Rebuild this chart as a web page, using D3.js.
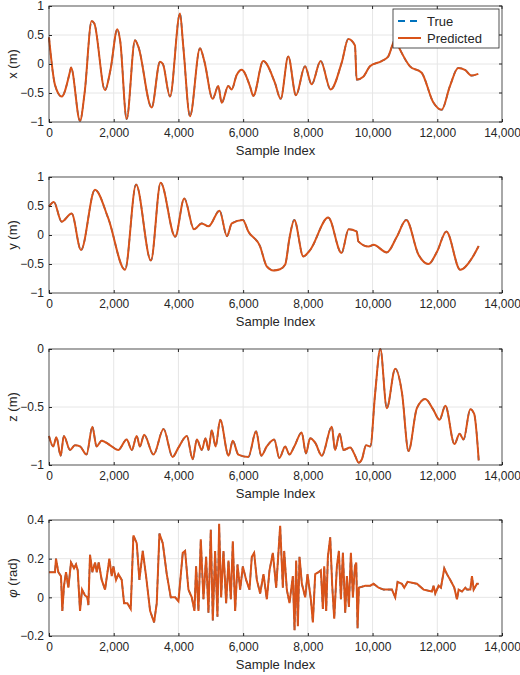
<!DOCTYPE html>
<html>
<head>
<meta charset="utf-8">
<script src="https://cdn.jsdelivr.net/npm/d3@7"></script>
<style>
  body { margin: 0; background: #fff; }
  text { font-family: "Liberation Sans", Arial, sans-serif; fill: #262626; }
</style>
</head>
<body>
<div id="chart"></div>
<script>
// ------------------------------ DATA ------------------------------
var xIndex = [0,185,392,649,680,958,1100,1318,1400,1730,1900,2111,2200,2400,2657,2760,3173,3430,3520,3739,4048,4150,4357,4666,4800,5058,5232,5336,5541,5644,5800,5954,6210,6313,6620,6980,7160,7395,7633,7911,8117,8395,8704,9044,9250,9456,9507,9713,9919,10280,10484,10700,10846,11155,11517,11875,12134,12391,12647,12853,13060,13266];
var xValue = [0.46,-0.36,-0.56,-0.13,-0.06,-0.98,-0.5,0.74,0.7,-0.45,-0.1,0.6,0.4,-0.95,0.41,0.3,-0.75,0.04,0.0,-0.56,0.87,0.3,-0.9,0.27,0.05,-0.6,-0.38,-0.67,-0.38,-0.44,-0.19,-0.1,-0.38,-0.55,0.05,-0.32,-0.6,0.13,-0.54,-0.04,-0.35,0.05,-0.44,0.02,0.43,0.32,-0.27,-0.22,-0.04,0.05,0.13,0.42,0.25,-0.04,-0.15,-0.66,-0.79,-0.38,-0.07,-0.1,-0.2,-0.17];

var yIndex = [0,150,390,700,990,1420,1830,2350,2690,3150,3450,3900,4180,4480,4720,4930,5270,5500,5650,5990,6160,6520,6730,6940,7140,7300,7430,7580,7860,8070,8630,9040,9260,9510,9560,9880,10030,10440,10750,11040,11420,11730,11990,12280,12710,13070,13280];
var yValue = [0.49,0.57,0.23,0.37,-0.26,0.78,0.29,-0.6,0.87,-0.44,0.9,-0.03,0.63,0.1,0.2,0.15,0.42,-0.02,0.2,0.26,0.06,-0.19,-0.54,-0.61,-0.59,-0.51,-0.06,0.26,-0.37,-0.26,0.3,-0.31,0.1,0.06,-0.11,-0.2,-0.17,-0.3,-0.03,0.26,-0.34,-0.5,-0.29,0.06,-0.6,-0.4,-0.19];

var zIndex = [0,130,230,360,460,650,800,960,1160,1340,1470,1630,1890,2140,2400,2560,2710,2810,2940,3230,3540,3820,4000,4260,4440,4570,4720,4840,4930,5030,5150,5290,5550,5680,5850,6160,6400,6560,6730,6960,7120,7300,7430,7580,7810,7940,8070,8230,8430,8740,8840,8980,9100,9310,9460,9570,9670,9800,9930,10080,10240,10440,10700,10910,11110,11370,11630,11870,12070,12250,12530,12690,12810,13020,13140,13280];
var zValue = [-0.75,-0.84,-0.76,-0.92,-0.75,-0.87,-0.83,-0.84,-0.91,-0.67,-0.84,-0.79,-0.83,-0.87,-0.78,-0.87,-0.75,-0.84,-0.74,-0.91,-0.69,-0.93,-0.85,-0.75,-0.95,-0.78,-0.87,-0.77,-0.87,-0.7,-0.84,-0.61,-0.92,-0.79,-0.91,-0.93,-0.71,-0.92,-0.84,-0.78,-0.94,-0.84,-0.91,-0.84,-0.72,-0.9,-0.77,-0.81,-0.92,-0.67,-0.87,-0.73,-0.87,-0.85,-0.92,-0.98,-0.95,-0.83,-0.84,-0.38,0.0,-0.51,-0.17,-0.38,-0.88,-0.51,-0.43,-0.52,-0.61,-0.49,-0.82,-0.73,-0.78,-0.52,-0.56,-0.96];

var phiIndex = [0,185,216,289,371,412,464,526,598,680,773,835,887,959,1021,1113,1186,1217,1268,1340,1423,1474,1536,1629,1732,1866,1938,1990,2072,2144,2247,2320,2423,2526,2608,2711,2794,2897,3000,3124,3248,3330,3413,3516,3639,3763,3897,4000,4134,4206,4309,4412,4495,4546,4619,4691,4773,4856,4928,5000,5062,5134,5206,5258,5320,5392,5475,5547,5619,5681,5753,5825,5908,5990,6093,6196,6268,6340,6423,6526,6629,6732,6815,6918,7021,7144,7227,7268,7350,7433,7536,7588,7639,7691,7742,7815,7918,7990,8093,8155,8227,8330,8402,8464,8505,8567,8619,8691,8753,8815,8897,8959,9021,9083,9155,9206,9268,9330,9392,9454,9495,9536,9577,9774,9928,10031,10186,10340,10598,10701,10773,10907,10979,11082,11371,11577,11835,11886,11938,12041,12113,12216,12299,12402,12525,12608,12660,12763,12866,12918,13021,13072,13124,13227,13278];
var phiValue = [0.13,0.13,0.2,0.13,0.11,-0.07,0.06,0.13,0.05,0.18,0.15,0.17,0.14,-0.07,0.04,0.01,0.0,-0.04,0.22,0.13,0.18,0.13,0.18,0.09,0.04,0.2,0.11,0.16,0.09,0.12,0.09,-0.03,-0.03,-0.06,0.32,0.28,0.09,0.24,0.11,-0.07,-0.13,-0.03,0.33,0.28,0.12,0.0,0.0,-0.02,0.23,0.24,0.04,0.0,-0.07,0.16,-0.07,0.3,-0.01,0.21,-0.08,0.35,-0.12,0.24,-0.1,0.38,0.0,0.24,-0.03,0.19,-0.01,0.29,-0.07,0.17,0.04,0.16,0.09,0.04,0.21,0.23,0.09,0.02,0.12,-0.01,0.14,0.23,0.05,0.37,0.05,0.24,0.04,-0.03,0.11,-0.17,0.19,-0.15,0.21,0.07,0.0,0.12,-0.01,-0.13,0.12,0.13,0.14,-0.06,0.16,-0.07,0.21,0.31,0.06,-0.11,0.16,0.24,-0.01,0.23,-0.08,0.11,-0.05,0.23,0.0,0.16,0.18,-0.16,0.05,0.06,0.06,0.07,0.05,0.04,0.04,0.0,0.08,0.07,0.05,0.08,0.07,0.04,0.03,0.06,0.02,0.06,0.05,0.15,0.12,0.09,0.05,-0.01,0.04,0.03,0.05,0.04,0.04,0.11,0.04,0.07,0.07];

var xTicks = [0,2000,4000,6000,8000,10000,12000,14000];

var panels = [
  {label: "x (m)", idx: xIndex, val: xValue, domain: [-1, 1], ticks: [-1,-0.5,0,0.5,1], top: 6, smooth: true},
  {label: "y (m)", idx: yIndex, val: yValue, domain: [-1, 1], ticks: [-1,-0.5,0,0.5,1], top: 177, smooth: true},
  {label: "z (m)", idx: zIndex, val: zValue, domain: [-1, 0], ticks: [-1,-0.5,0], top: 349, smooth: true},
  {label: "phi", idx: phiIndex, val: phiValue, domain: [-0.2, 0.4], ticks: [-0.2,0,0.2,0.4], top: 520, smooth: false}
];

// ------------------------------ CONFIG ------------------------------
var width = 520, height = 675,
    left = 49, right = 502, panelHeight = 116,
    trueColor = "#0072BD", predColor = "#D95319";

var svg = d3.select("#chart").append("svg")
    .attr("width", width)
    .attr("height", height);

var x = d3.scaleLinear().domain([0, 14000]).range([left, right]);

panels.forEach(function (p) {
    var y = d3.scaleLinear().domain(p.domain).range([p.top + panelHeight, p.top]);
    var g = svg.append("g");
    var pts = p.idx.map(function (d, i) { return [d, p.val[i]]; });

    // grid
    g.selectAll("line.gx").data(xTicks.slice(1, -1)).enter().append("line")
        .attr("x1", d => x(d)).attr("x2", d => x(d))
        .attr("y1", p.top).attr("y2", p.top + panelHeight)
        .attr("stroke", "#e6e6e6");
    g.selectAll("line.gy").data(p.ticks.slice(1, -1)).enter().append("line")
        .attr("x1", left).attr("x2", right)
        .attr("y1", d => y(d)).attr("y2", d => y(d))
        .attr("stroke", "#e6e6e6");

    var line = d3.line()
        .x(d => x(d[0])).y(d => y(d[1]))
        .curve(p.smooth ? d3.curveMonotoneX : d3.curveLinear);

    g.append("path").datum(pts).attr("d", line)
        .attr("fill", "none").attr("stroke", trueColor)
        .attr("stroke-width", 1.6).attr("stroke-dasharray", "5,3");
    g.append("path").datum(pts).attr("d", line)
        .attr("fill", "none").attr("stroke", predColor)
        .attr("stroke-width", 2);

    // axes (ticks inward like MATLAB)
    var fmt = d3.format("");
    var xa = g.append("g").attr("transform", "translate(0," + (p.top + panelHeight) + ")")
        .call(d3.axisBottom(x).tickValues(xTicks).tickSizeInner(-3).tickSizeOuter(0).tickPadding(6));
    var ya = g.append("g").attr("transform", "translate(" + left + ",0)")
        .call(d3.axisLeft(y).tickValues(p.ticks).tickSizeInner(-3).tickSizeOuter(0).tickPadding(5)
            .tickFormat(d => d3.format("")(d).replace("-", "\u2212")));
    [xa, ya].forEach(function (a) {
        a.selectAll("text").attr("font-size", 12).attr("fill", "#262626");
        a.selectAll("line").attr("stroke", "#262626");
        a.select(".domain").remove();
    });
    g.append("rect").attr("x", left).attr("y", p.top)
        .attr("width", right - left).attr("height", panelHeight)
        .attr("fill", "none").attr("stroke", "#262626").attr("stroke-width", 0.8);

    // right / top ticks
    g.selectAll("line.rt").data(p.ticks).enter().append("line")
        .attr("x1", right).attr("x2", right - 3)
        .attr("y1", d => y(d)).attr("y2", d => y(d)).attr("stroke", "#262626");
    g.selectAll("line.tt").data(xTicks).enter().append("line")
        .attr("x1", d => x(d)).attr("x2", d => x(d))
        .attr("y1", p.top).attr("y2", p.top + 3).attr("stroke", "#262626");

    g.append("text").attr("x", (left + right) / 2).attr("y", p.top + panelHeight + 33)
        .attr("text-anchor", "middle").attr("font-size", 13).text("Sample Index");

    var yl = g.append("text")
        .attr("transform", "translate(17," + (p.top + panelHeight / 2) + ") rotate(-90)")
        .attr("text-anchor", "middle").attr("font-size", 13);
    if (p.label === "phi") {
        yl.append("tspan").attr("font-style", "italic").text("\u03C6");
        yl.append("tspan").text(" (rad)");
    } else {
        yl.text(p.label);
    }
});

// ------------------------------ LEGEND ------------------------------
var lg = svg.append("g").attr("transform", "translate(393,9)");
lg.append("rect").attr("width", 106).attr("height", 39)
    .attr("fill", "#fff").attr("stroke", "#262626").attr("stroke-width", 0.8);
lg.append("line").attr("x1", 5).attr("x2", 28).attr("y1", 12).attr("y2", 12)
    .attr("stroke", trueColor).attr("stroke-width", 2).attr("stroke-dasharray", "7,5");
lg.append("line").attr("x1", 5).attr("x2", 28).attr("y1", 29).attr("y2", 29)
    .attr("stroke", predColor).attr("stroke-width", 2);
lg.append("text").attr("x", 34).attr("y", 17).attr("font-size", 13).text("True");
lg.append("text").attr("x", 34).attr("y", 34).attr("font-size", 13).text("Predicted");
</script>
</body>
</html>
